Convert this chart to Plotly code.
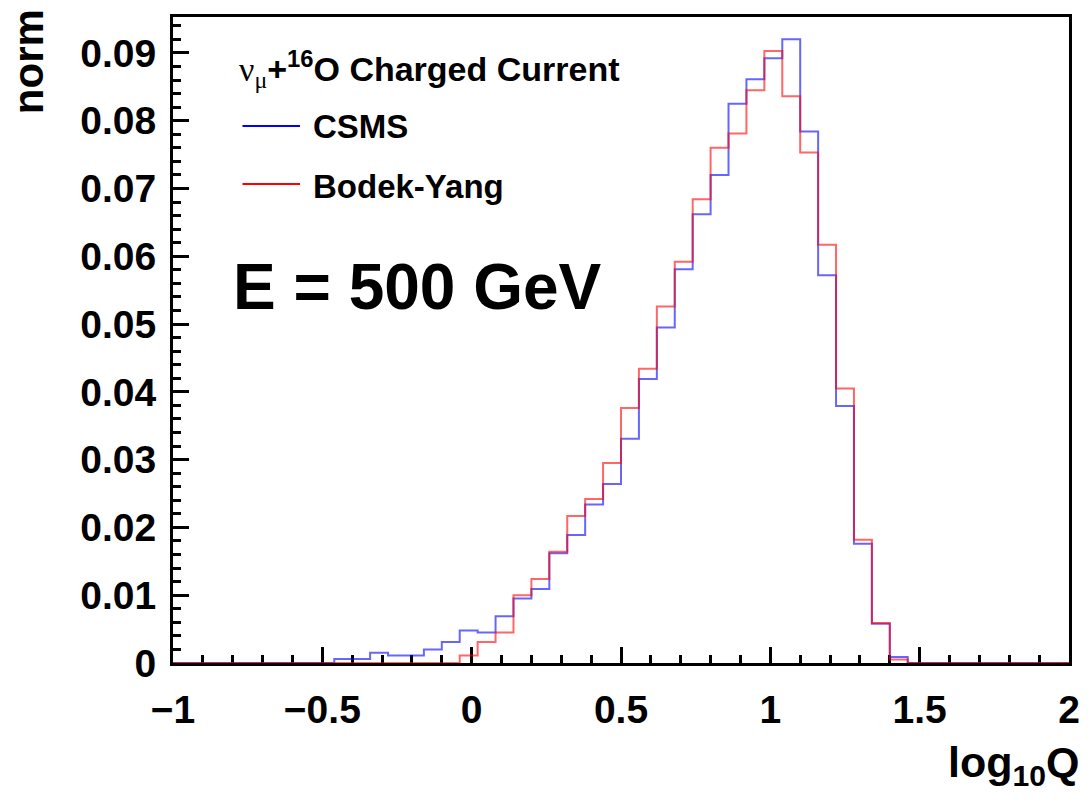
import numpy as np
import plotly.graph_objects as go

# ---- data ----
bin_lo, bin_hi, n_bins = -1.0, 2.0, 50
csms = [0, 0, 0, 0, 0, 0, 0, 0, 0,
        0.0006, 0.0006, 0.0015, 0.0011, 0.0011, 0.0020, 0.0031, 0.0048, 0.0045,
        0.0069, 0.0095, 0.0109, 0.0162, 0.0189, 0.0234, 0.0264, 0.0331, 0.0419,
        0.0495, 0.0581, 0.0662, 0.0720, 0.0825, 0.0861, 0.0892, 0.0920, 0.0784,
        0.0572, 0.0379, 0.0176, 0.0058, 0.0009,
        0, 0, 0, 0, 0, 0, 0, 0, 0]
bodek_yang = [0, 0, 0, 0, 0, 0, 0, 0, 0, 0, 0, 0, 0, 0, 0, 0,
              0.0011, 0.0031, 0.0045, 0.0100, 0.0124, 0.0164, 0.0217, 0.0242,
              0.0295, 0.0376, 0.0434, 0.0526, 0.0592, 0.0684, 0.0760, 0.0781,
              0.0845, 0.0903, 0.0836, 0.0753, 0.0617, 0.0405, 0.0182, 0.0059,
              0.0005,
              0, 0, 0, 0, 0, 0, 0, 0, 0]
x_tickvals = [-1, -0.5, 0, 0.5, 1, 1.5, 2]
x_ticktext = ["\u22121", "\u22120.5", "0", "0.5", "1", "1.5", "2"]
y_tickvals = [0, 0.01, 0.02, 0.03, 0.04, 0.05, 0.06, 0.07, 0.08, 0.09]
y_ticktext = ["0", "0.01", "0.02", "0.03", "0.04", "0.05", "0.06", "0.07", "0.08", "0.09"]

edges = np.linspace(bin_lo, bin_hi, n_bins + 1)

W, H = 1092, 804
ML, MR, MT, MB = 173, 16, 17, 141
PW, PH = W - ML - MR, H - MT - MB


def px(xp):
    return (xp - ML) / PW


def py(yp):
    return (H - MB - yp) / PH


fig = go.Figure()
for vals, col, name in [(csms, "rgba(0,0,255,0.6)", "CSMS"),
                        (bodek_yang, "rgba(255,0,0,0.6)", "Bodek-Yang")]:
    fig.add_trace(go.Scatter(
        x=edges, y=list(vals) + [vals[-1]], mode="lines",
        line=dict(color=col, width=2, shape="hv"), name=name,
        showlegend=False, hoverinfo="skip"))

FONT = "Liberation Sans"
axis_common = dict(
    showline=True, linewidth=3, linecolor="black", mirror=True,
    ticks="inside", ticklen=16, tickwidth=3, tickcolor="black",
    showgrid=False, zeroline=False,
    tickfont=dict(family=FONT, size=39, color="black", weight="bold"),
)
fig.update_xaxes(range=[bin_lo, bin_hi], tickvals=x_tickvals, ticktext=x_ticktext,
                 minor=dict(ticks="inside", ticklen=8, tickwidth=3, dtick=0.1,
                            tickcolor="black", showgrid=False),
                 ticklabelstandoff=10, layer="below traces", **axis_common)
fig.update_yaxes(range=[0, 0.0953], tickvals=y_tickvals, ticktext=y_ticktext,
                 minor=dict(ticks="inside", ticklen=8, tickwidth=3, dtick=0.002,
                            tickcolor="black", showgrid=False),
                 ticklabelstandoff=6, **axis_common)

ann = []
ann.append(dict(
    text="<span style='font-family:Liberation Serif;font-weight:normal'>\u03bd<sub>\u03bc</sub></span>"
         "<b>+<sup>16</sup>O Charged Current</b>",
    x=px(238), y=py(69), xanchor="left", yanchor="middle",
    font=dict(family=FONT, size=34, color="black")))
ann.append(dict(text="<b>CSMS</b>", x=px(312), y=py(127), xanchor="left", yanchor="middle",
                font=dict(family=FONT, size=33, color="black")))
ann.append(dict(text="<b>Bodek-Yang</b>", x=px(312), y=py(186), xanchor="left", yanchor="middle",
                font=dict(family=FONT, size=33, color="black")))
ann.append(dict(text="<b>E = 500 GeV</b>", x=px(231), y=py(287), xanchor="left", yanchor="middle",
                font=dict(family=FONT, size=64, color="black")))
ann.append(dict(text="<b>norm</b>", x=px(27), y=py(62), xanchor="center", yanchor="middle",
                textangle=-90, font=dict(family=FONT, size=42, color="black")))
ann.append(dict(text="<b>log<sub>10</sub>Q</b>", x=px(1088), y=py(765), xanchor="right",
                yanchor="middle", font=dict(family=FONT, size=43, color="black")))
for a in ann:
    a.update(xref="paper", yref="paper", showarrow=False)

shapes = [
    dict(type="line", xref="paper", yref="paper", x0=px(243), x1=px(301), y0=py(126), y1=py(126),
         line=dict(color="blue", width=2)),
    dict(type="line", xref="paper", yref="paper", x0=px(243), x1=px(301), y0=py(184), y1=py(184),
         line=dict(color="red", width=2)),
]

fig.update_layout(
    width=W, height=H, margin=dict(l=ML, r=MR, t=MT, b=MB),
    paper_bgcolor="white", plot_bgcolor="white",
    annotations=ann, shapes=shapes, showlegend=False,
)
fig.write_html("out.html")
